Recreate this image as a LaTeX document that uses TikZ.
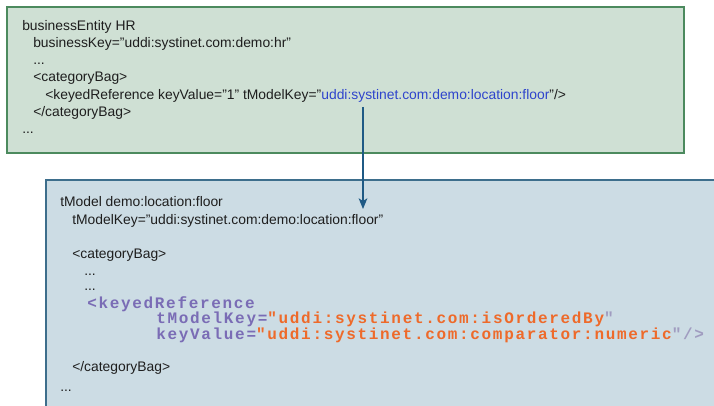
\documentclass[tikz,border=0pt]{standalone}
\usepackage{fontspec}
\setmainfont{Liberation Sans}
\newfontfamily\codefont[LetterSpace=10.5]{Liberation Mono}
\usetikzlibrary{arrows.meta,positioning}
\definecolor{hrfill}{HTML}{CFE0D4}
\definecolor{hrdraw}{HTML}{4C8A5E}
\definecolor{tmfill}{HTML}{CCDCE4}
\definecolor{tmdraw}{HTML}{3D6E8C}
\definecolor{txtgray}{HTML}{1E1E1E}
\definecolor{keyblue}{HTML}{2E44CC}
\definecolor{keypurple}{HTML}{7A6CB5}
\definecolor{valorange}{HTML}{EE6A2A}
\definecolor{quotegray}{HTML}{A09CC0}
\definecolor{arrowblue}{HTML}{1F5A85}

\begin{document}
\begin{tikzpicture}[x=0.75pt, y=-0.75pt,
    line/.style={anchor=base west, inner sep=0pt, text=txtgray, font=\fontsize{10.4}{12}\selectfont},
    code/.style={anchor=base west, inner sep=0pt, font=\codefont\bfseries\fontsize{12}{14}\selectfont},
    link/.style={-{Stealth[length=8pt, width=6.5pt, inset=2pt]}, line width=1.1pt, draw=arrowblue},
]
    \clip (0,0) rectangle (714,406);

    % business entity
    \path[fill=hrfill, draw=hrdraw, line width=1.6pt] (7,7) rectangle (684,153);
    \node[line] (hrname) at (22,31) {businessEntity HR};
    \node[line] (hrkey) at (33,48) {businessKey="uddi:systinet.com:demo:hr"};
    \node[line] (hrdots) at (33,65) {...};
    \node[line] (hrbag) at (33,82) {<categoryBag>};
    \node[line] (hrref) at (45,100) {<keyedReference keyValue="1" tModelKey="\textcolor{keyblue}{uddi:systinet.com:demo:location:floor}"/>};
    \node[line] (hrbagend) at (33,117) {</categoryBag>};
    \node[line] (hrend) at (22,134) {...};

    % tModel
    \path[fill=tmfill, draw=tmdraw, line width=1.6pt] (46,180) rectangle (740,430);
    \node[line] (tmname) at (60,207) {tModel demo:location:floor};
    \node[line] (tmkey) at (72,224) {tModelKey="uddi:systinet.com:demo:location:floor"};
    \node[line] (tmbag) at (72,258) {<categoryBag>};
    \node[line] (tmdots) at (84,275) {...};
    \node[line] (tmdotsb) at (84,290) {...};
    \node[code, text=keypurple] (kref) at (87,308) {<keyedReference};
    \node[code] (kmodel) at (156,323.5) {\textcolor{keypurple}{tModelKey=}\textcolor{valorange}{"uddi:systinet.com:isOrderedBy}\textcolor{quotegray}{"}};
    \node[code] (kvalue) at (156,339) {\textcolor{keypurple}{keyValue=}\textcolor{valorange}{"uddi:systinet.com:comparator:numeric}\textcolor{quotegray}{"/>}};
    \node[line] (tmbagend) at (72,371) {</categoryBag>};
    \node[line] (tmend) at (60,391) {...};

    \coordinate (src) at (363,107);
    \coordinate (dst) at (363,209);
    \draw[link] (src) -- (dst);
\end{tikzpicture}
\end{document}
